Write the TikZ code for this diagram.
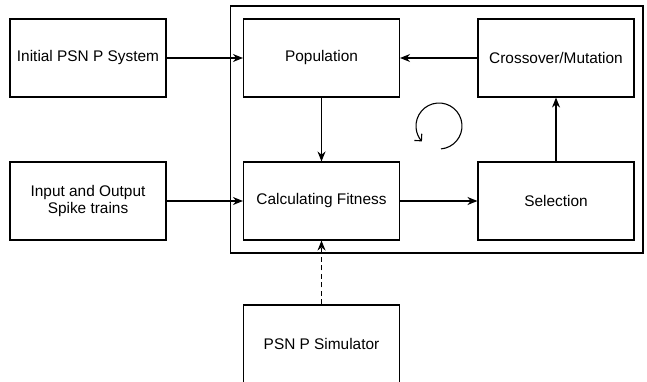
\documentclass[tikz,border=0pt]{standalone}
\usepackage{fontspec}
\setmainfont{Liberation Sans}
\usetikzlibrary{arrows.meta}
\begin{document}
\begin{tikzpicture}[x=1pt,y=1pt,
  block/.style={draw,line width=1.1pt,minimum width=156pt,minimum height=78pt,align=center,
    font=\fontsize{15.4}{17.5}\selectfont},
  link/.style={line width=1.1pt,-{Stealth[length=10pt,width=8pt]}}]
\useasboundingbox (0,0) rectangle (647,381);
\clip (0,0) rectangle (647,381);
\draw[line width=1.1pt] (230.5,128) rectangle (643,375);
\node[block] (init) at (88,323) {Initial PSN P System};
\node[block] (io) at (88,180) {Input and Output\\Spike trains};
\node[block] (pop) at (321.5,323) {Population};
\node[block] (cross) at (556,323) {Crossover/Mutation};
\node[block] (fit) at (321.5,180) {Calculating Fitness};
\node[block] (sel) at (556,180) {Selection};
\node[block] (sim) at (321.5,37) {PSN P Simulator};
\draw[link] (init) -- (pop);
\draw[link] (io) -- (fit);
\draw[link] (pop) -- (fit);
\draw[link] (fit) -- (sel);
\draw[link] (sel) -- (cross);
\draw[link] (cross) -- (pop);
\draw[link,dash pattern=on 5pt off 3.5pt] (sim) -- (fit);
% loop sign
\coordinate (loop) at (439,255);
\draw[line width=1.1pt,-{Straight Barb[length=5pt,width=10pt]}] (loop) ++(-85:23) arc[start angle=-85,end angle=222,radius=23];
\end{tikzpicture}
\end{document}
